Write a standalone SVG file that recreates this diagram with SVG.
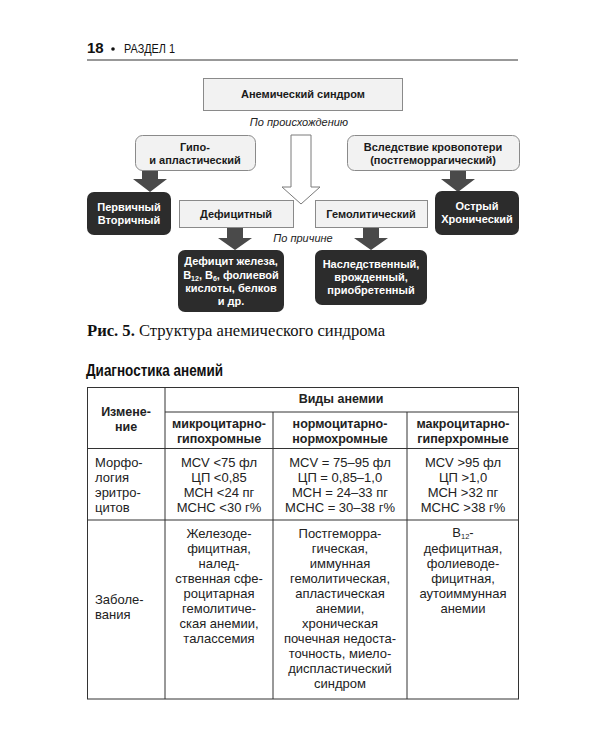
<svg xmlns="http://www.w3.org/2000/svg" width="600" height="750" viewBox="0 0 600 750">
<style>
.b{font-family:"Liberation Sans",Arial,sans-serif;font-weight:bold;font-size:11px;text-anchor:middle;fill:#1a1a1a}
.w{fill:#ffffff}
.dark{fill:#2c2c2c}
.light{fill:#f2f2f2;stroke:#8a8a8a;stroke-width:1}
.it{font-family:"Liberation Sans",Arial,sans-serif;font-style:italic;font-size:11px;text-anchor:middle;fill:#222}
.t{font-family:"Liberation Sans",Arial,sans-serif;font-size:13px;fill:#222;text-anchor:middle}
.tl{text-anchor:start}
.tb{font-weight:bold;font-size:12.5px}
.arr{fill:#4a4a4a}
.grid{stroke:#333;stroke-width:1;fill:none}
</style>
<rect width="600" height="750" fill="#ffffff"/>
<g id="page-header">
<text x="87" y="53" style="font-family:'Liberation Sans',Arial,sans-serif;font-weight:bold;font-size:15px;fill:#111">18</text>
<circle cx="113" cy="49" r="1.8" fill="#111"/>
<text x="124" y="53" textLength="51" lengthAdjust="spacingAndGlyphs" style="font-family:'Liberation Sans',Arial,sans-serif;font-size:12.5px;fill:#111">РАЗДЕЛ 1</text>
<line x1="87" y1="60" x2="518" y2="60" stroke="#333" stroke-width="1"/>
</g>
<g id="connectors">
<path d="M291,135 H311 V187 H320 L301,204 L282,187 H291 Z" fill="#ffffff" stroke="#7a7a7a" stroke-width="1"/>
<path class="arr" d="M142,170 H158 V179 H167 L150,192 L133,179 H142 Z"/>
<path class="arr" d="M450,170 H466 V179 H475 L458,192 L441,179 H450 Z"/>
<path class="arr" d="M227,228 H243 V238 H252 L235,250 L218,238 H227 Z"/>
<path class="arr" d="M363,228 H379 V238 H388 L371,250 L354,238 H363 Z"/>
<text class="it" x="299" y="126">По происхождению</text>
<text class="it" x="303" y="242">По причине</text>
</g>
<g id="node-root">
<rect class="light" x="203.5" y="78.5" width="199" height="32" fill="#efefef"/>
<text class="b" x="303" y="98">Анемический синдром</text>
</g>
<g id="node-gipo">
<rect class="light" x="135.5" y="135.5" width="120" height="35" rx="7"/>
<text class="b" x="195" y="151">Гипо-</text>
<text class="b" x="195" y="164">и апластический</text>
</g>
<g id="node-krovopoteri">
<rect class="light" x="347.5" y="135.5" width="172" height="35" rx="7"/>
<text class="b" x="433" y="151">Вследствие кровопотери</text>
<text class="b" x="433" y="164">(постгеморрагический)</text>
</g>
<g id="node-pervichny">
<rect class="dark" x="87" y="192" width="84" height="43" rx="7"/>
<text class="b w" x="129" y="211">Первичный</text>
<text class="b w" x="129" y="224">Вторичный</text>
</g>
<g id="node-ostry">
<rect class="dark" x="435" y="191" width="84" height="44" rx="7"/>
<text class="b w" x="477" y="210">Острый</text>
<text class="b w" x="477" y="223">Хронический</text>
</g>
<g id="node-deficitny">
<rect class="light" x="179.5" y="200.5" width="114" height="27"/>
<text class="b" x="236" y="218">Дефицитный</text>
</g>
<g id="node-gemolitichesky">
<rect class="light" x="315.5" y="200.5" width="112" height="27"/>
<text class="b" x="371" y="218">Гемолитический</text>
</g>
<g id="node-deficit-detail">
<rect class="dark" x="178" y="250" width="106" height="62" rx="7"/>
<text class="b w" x="231" y="265">Дефицит железа,</text>
<text class="b w" x="231" y="278.5">B<tspan font-size="7" dy="2">12</tspan><tspan dy="-2">, B</tspan><tspan font-size="7" dy="2">6</tspan><tspan dy="-2">, фолиевой</tspan></text>
<text class="b w" x="231" y="292">кислоты, белков</text>
<text class="b w" x="231" y="305">и др.</text>
</g>
<g id="node-gemolit-detail">
<rect class="dark" x="315" y="250" width="112" height="55" rx="7"/>
<text class="b w" x="371" y="268">Наследственный,</text>
<text class="b w" x="371" y="281">врожденный,</text>
<text class="b w" x="371" y="294">приобретенный</text>
</g>
<g id="caption">
<text x="87" y="336" style="font-family:'Liberation Serif','Times New Roman',serif;font-size:16.6px;fill:#111"><tspan font-weight="bold">Рис. 5.</tspan> Структура анемического синдрома</text>
</g>
<g id="table">
<text x="86" y="376" textLength="137" lengthAdjust="spacingAndGlyphs" style="font-family:'Liberation Sans',Arial,sans-serif;font-weight:bold;font-size:16.5px;fill:#111">Диагностика анемий</text>
<rect class="grid" x="87.5" y="387.5" width="431" height="311.5" stroke-width="1.2"/>
<line class="grid" x1="165" y1="387" x2="165" y2="699"/>
<line class="grid" x1="273" y1="412" x2="273" y2="699"/>
<line class="grid" x1="407" y1="412" x2="407" y2="699"/>
<line class="grid" x1="165" y1="412" x2="518" y2="412"/>
<line class="grid" x1="87" y1="448.5" x2="518" y2="448.5"/>
<line class="grid" x1="87" y1="520" x2="518" y2="520"/>
<text class="t tb" x="126" y="416">Измене-</text>
<text class="t tb" x="126" y="431">ние</text>
<text class="t tb" x="341" y="403">Виды анемии</text>
<text class="t tb" x="219" y="428">микроцитарно-</text>
<text class="t tb" x="219" y="443">гипохромные</text>
<text class="t tb" x="340" y="428">нормоцитарно-</text>
<text class="t tb" x="340" y="443">нормохромные</text>
<text class="t tb" x="463" y="428">макроцитарно-</text>
<text class="t tb" x="463" y="443">гиперхромные</text>
<text class="t tl" x="95" y="467">Морфо-</text>
<text class="t tl" x="95" y="482">логия</text>
<text class="t tl" x="95" y="497">эритро-</text>
<text class="t tl" x="95" y="512">цитов</text>
<text class="t" x="219" y="467">MCV &lt;75 фл</text>
<text class="t" x="219" y="482">ЦП &lt;0,85</text>
<text class="t" x="219" y="497">MCH &lt;24 пг</text>
<text class="t" x="219" y="512">MCHC &lt;30 г%</text>
<text class="t" x="340" y="467">MCV = 75–95 фл</text>
<text class="t" x="340" y="482">ЦП = 0,85–1,0</text>
<text class="t" x="340" y="497">MCH = 24–33 пг</text>
<text class="t" x="340" y="512">MCHC = 30–38 г%</text>
<text class="t" x="463" y="467">MCV &gt;95 фл</text>
<text class="t" x="463" y="482">ЦП &gt;1,0</text>
<text class="t" x="463" y="497">MCH &gt;32 пг</text>
<text class="t" x="463" y="512">MCHC &gt;38 г%</text>
<text class="t tl" x="95" y="604">Заболе-</text>
<text class="t tl" x="95" y="619">вания</text>
<text class="t" x="219" y="538">Железоде-</text>
<text class="t" x="219" y="553">фицитная,</text>
<text class="t" x="219" y="568">налед-</text>
<text class="t" x="219" y="583">ственная сфе-</text>
<text class="t" x="219" y="598">роцитарная</text>
<text class="t" x="219" y="613">гемолитиче-</text>
<text class="t" x="219" y="628">ская анемии,</text>
<text class="t" x="219" y="643">талассемия</text>
<text class="t" x="340" y="538">Постгеморра-</text>
<text class="t" x="340" y="553">гическая,</text>
<text class="t" x="340" y="568">иммунная</text>
<text class="t" x="340" y="583">гемолитическая,</text>
<text class="t" x="340" y="598">апластическая</text>
<text class="t" x="340" y="613">анемии,</text>
<text class="t" x="340" y="628">хроническая</text>
<text class="t" x="340" y="643">почечная недоста-</text>
<text class="t" x="340" y="658">точность, миело-</text>
<text class="t" x="340" y="673">диспластический</text>
<text class="t" x="340" y="688">синдром</text>
<text class="t" x="463" y="537">B<tspan font-size="7.5" dy="2">12</tspan><tspan dy="-2">-</tspan></text>
<text class="t" x="463" y="553">дефицитная,</text>
<text class="t" x="463" y="568">фолиеводе-</text>
<text class="t" x="463" y="583">фицитная,</text>
<text class="t" x="463" y="598">аутоиммунная</text>
<text class="t" x="463" y="613">анемии</text>
</g>
</svg>
